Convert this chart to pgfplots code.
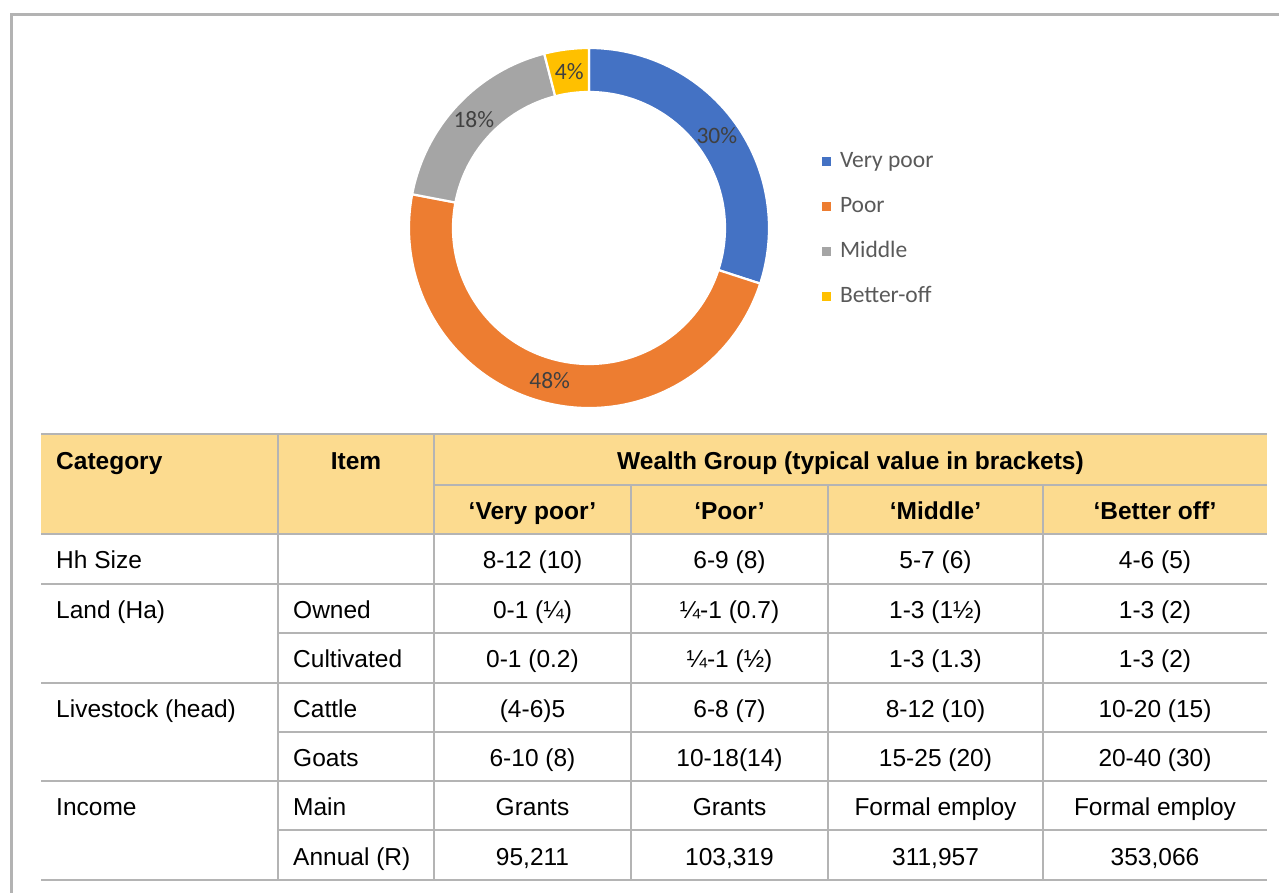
\documentclass[border=0pt]{standalone}
\usepackage{pgfplots}
\pgfplotsset{compat=1.18}
\usepackage{fontspec}
\setmainfont{Carlito}
\newfontfamily\tabfont{Liberation Sans}
\definecolor{vpoor}{HTML}{4472C4}
\definecolor{poor}{HTML}{ED7D31}
\definecolor{mid}{HTML}{A5A5A5}
\definecolor{better}{HTML}{FFC000}
\definecolor{hdr}{HTML}{FCDB8F}
\definecolor{gridc}{HTML}{B4B4B4}
\definecolor{framec}{HTML}{B3B3B3}
\definecolor{lbl}{HTML}{404040}
\definecolor{leg}{HTML}{595959}
\newcommand{\lblfont}{\fontsize{23.5bp}{28bp}\selectfont}
\newcommand{\tfont}{\tabfont\fontsize{24.5bp}{29bp}\selectfont}
\newcommand{\tbfont}{\tabfont\bfseries\fontsize{24.5bp}{29bp}\selectfont}
% start share, share, colour, label
\newcommand{\donutslice}[4]{%
  \pgfmathsetmacro{\aA}{90-3.6*(#1)}%
  \pgfmathsetmacro{\aB}{90-3.6*(#1+#2)}%
  \pgfmathsetmacro{\aM}{90-3.6*(#1+#2/2)}%
  \begin{scope}[shift={(axis cs:589,-228)}]
    \filldraw[fill=#3, draw=white, line width=2.2bp]
      (\aA:180bp) arc[start angle=\aA, end angle=\aB, radius=180bp]
      -- (\aB:136bp) arc[start angle=\aB, end angle=\aA, radius=136bp] -- cycle;
    \node[font=\lblfont, text=lbl, inner sep=0pt] at (\aM:158bp) {#4};
  \end{scope}}
\newcommand{\cl}[3]{\node[anchor=base west, inner sep=0pt, font=\tfont] at (axis cs:#1,-#2) {#3};}
\newcommand{\cc}[3]{\node[anchor=base, inner sep=0pt, font=\tfont] at (axis cs:#1,-#2) {#3};}
\newcommand{\hl}[3]{\node[anchor=base west, inner sep=0pt, font=\tbfont] at (axis cs:#1,-#2) {#3};}
\newcommand{\hc}[3]{\node[anchor=base, inner sep=0pt, font=\tbfont] at (axis cs:#1,-#2) {#3};}
\begin{document}
\begin{tikzpicture}
\begin{axis}[
  at={(0,0)}, anchor=south west,
  scale only axis, width=1279bp, height=893bp,
  xmin=0, xmax=1279, ymin=-893, ymax=0,
  hide axis, clip=false,
  legend cell align=left,
  legend style={at={(0.6427,0.832)}, anchor=north west, draw=none, fill=none,
    inner sep=0pt, outer sep=0pt, row sep=23bp, column sep=9bp,
    font=\lblfont, text=leg,
    nodes={inner sep=0pt, text height=17bp, text depth=5bp}},
]
% frame
\draw[framec, line width=3bp] (axis cs:11,-893) -- (axis cs:11,-14.7) -- (axis cs:1279,-14.7);
% donut
\pgfplotsextra{\donutslice{0}{30}{vpoor}{30\%}}
\pgfplotsextra{\donutslice{30}{48}{poor}{48\%}}
\pgfplotsextra{\donutslice{78}{18}{mid}{18\%}}
\pgfplotsextra{\donutslice{96}{4}{better}{4\%}}
% legend
\addlegendimage{fill=vpoor, draw=none, legend image code/.code={\fill (0bp,-4.5bp) rectangle (9bp,4.5bp);}}
\addlegendentry{Very poor}
\addlegendimage{fill=poor, draw=none, legend image code/.code={\fill (0bp,-4.5bp) rectangle (9bp,4.5bp);}}
\addlegendentry{Poor}
\addlegendimage{fill=mid, draw=none, legend image code/.code={\fill (0bp,-4.5bp) rectangle (9bp,4.5bp);}}
\addlegendentry{Middle}
\addlegendimage{fill=better, draw=none, legend image code/.code={\fill (0bp,-4.5bp) rectangle (9bp,4.5bp);}}
\addlegendentry{Better-off}
% table background
\fill[hdr] (axis cs:41,-434) rectangle (axis cs:1267,-534);
% table lines
\draw[gridc, line width=2.5bp]
  (axis cs:41,-434) -- (axis cs:1267,-434)
  (axis cs:434,-485) -- (axis cs:1267,-485)
  (axis cs:41,-534) -- (axis cs:1267,-534)
  (axis cs:41,-584) -- (axis cs:1267,-584)
  (axis cs:278,-633) -- (axis cs:1267,-633)
  (axis cs:41,-683) -- (axis cs:1267,-683)
  (axis cs:278,-732) -- (axis cs:1267,-732)
  (axis cs:41,-781) -- (axis cs:1267,-781)
  (axis cs:278,-830) -- (axis cs:1267,-830)
  (axis cs:41,-880) -- (axis cs:1267,-880)
  (axis cs:278,-434) -- (axis cs:278,-880)
  (axis cs:434,-434) -- (axis cs:434,-880)
  (axis cs:631,-485) -- (axis cs:631,-880)
  (axis cs:828,-485) -- (axis cs:828,-880)
  (axis cs:1043,-485) -- (axis cs:1043,-880);
% header text
\hl{56}{470}{Category}
\hc{356}{470}{Item}
\hc{850.5}{470}{Wealth Group (typical value in brackets)}
\hc{532.5}{520}{‘Very poor’}
\hc{729.5}{520}{‘Poor’}
\hc{935.5}{520}{‘Middle’}
\hc{1155}{520}{‘Better off’}
% body
\cl{56}{569}{Hh Size}
\cc{532.5}{569}{8-12 (10)}\cc{729.5}{569}{6-9 (8)}\cc{935.5}{569}{5-7 (6)}\cc{1155}{569}{4-6 (5)}
\cl{56}{619}{Land (Ha)}\cl{293}{619}{Owned}
\cc{532.5}{619}{0-1 (¼)}\cc{729.5}{619}{¼-1 (0.7)}\cc{935.5}{619}{1-3 (1½)}\cc{1155}{619}{1-3 (2)}
\cl{293}{668}{Cultivated}
\cc{532.5}{668}{0-1 (0.2)}\cc{729.5}{668}{¼-1 (½)}\cc{935.5}{668}{1-3 (1.3)}\cc{1155}{668}{1-3 (2)}
\cl{56}{718}{Livestock (head)}\cl{293}{718}{Cattle}
\cc{532.5}{718}{(4-6)5}\cc{729.5}{718}{6-8 (7)}\cc{935.5}{718}{8-12 (10)}\cc{1155}{718}{10-20 (15)}
\cl{293}{767}{Goats}
\cc{532.5}{767}{6-10 (8)}\cc{729.5}{767}{10-18(14)}\cc{935.5}{767}{15-25 (20)}\cc{1155}{767}{20-40 (30)}
\cl{56}{816}{Income}\cl{293}{816}{Main}
\cc{532.5}{816}{Grants}\cc{729.5}{816}{Grants}\cc{935.5}{816}{Formal employ}\cc{1155}{816}{Formal employ}
\cl{293}{865}{Annual (R)}
\cc{532.5}{865}{95,211}\cc{729.5}{865}{103,319}\cc{935.5}{865}{311,957}\cc{1155}{865}{353,066}
\end{axis}
\pgfresetboundingbox
\useasboundingbox (0,0) rectangle (1279bp,893bp);
\end{tikzpicture}
\end{document}
